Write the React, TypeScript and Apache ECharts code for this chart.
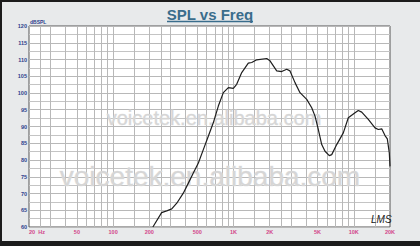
import React, { useEffect, useRef } from "react";
import * as echarts from "echarts";

// Frequency response data (Hz, dB SPL)
const freqHz = [214, 253, 279, 307, 338, 383, 422, 464, 511, 562, 618, 680, 749, 824, 907, 998, 1064, 1172, 1329, 1419, 1561, 1890, 2013, 2288, 2518, 2771, 2952, 3248, 3574, 4064, 4472, 4764, 5075, 5415, 5768, 6262, 6558, 7214, 8185, 9007, 10240, 10908, 11642, 13206, 15012, 15992, 17066, 18178, 19000, 19740, 20000];
const splDb = [60, 64.3, 64.8, 65.4, 67.1, 70.1, 73.1, 76.1, 79.1, 83.1, 87.1, 91.1, 96.1, 100.1, 101.6, 101.4, 102.6, 106.1, 108.9, 109.1, 109.9, 110.3, 109.6, 106.6, 106.4, 107.1, 106.6, 103.1, 100.1, 98.1, 95.6, 93.1, 89.1, 84.6, 82.6, 81.3, 81.6, 84.6, 88.1, 92.6, 94.1, 94.8, 94.3, 92.1, 89.6, 89.1, 89.3, 87.3, 86.3, 82.1, 78.1];

// Vertical grid lines of the log frequency axis
const gridFreqs = [25, 30, 40, 50, 60, 70, 80, 90, 100, 150, 200, 250, 300, 400, 500, 600, 700, 800, 900, 1000, 1500, 2000, 2500, 3000, 4000, 5000, 6000, 7000, 8000, 9000, 10000, 15000];
// Labelled frequencies and their tick labels
const labelFreqs = [20, 50, 100, 200, 500, 1000, 2000, 5000, 10000, 20000];
const labelTexts = ["20  Hz", "50", "100", "200", "500", "1K", "2K", "5K", "10K", "20K"];

const FONT = "Liberation Sans, Arial, sans-serif";

export default function App() {
  const ref = useRef<HTMLDivElement>(null);
  useEffect(() => {
    if (!ref.current) return;
    const chart = echarts.init(ref.current, null, { renderer: "svg" });
    const curve = freqHz.map((f, i) => [f, splDb[i]]);
    const gridLineData: any[] = gridFreqs.map((f) => ({ xAxis: f, label: { show: false } }));
    labelFreqs.forEach((f, i) => {
      gridLineData.push({
        xAxis: f,
        lineStyle: { color: "rgba(0,0,0,0)" },
        label: {
          show: true,
          position: "start",
          distance: 2,
          formatter: labelTexts[i],
          color: "#d2458a",
          fontSize: 5.5,
          fontFamily: FONT,
          fontWeight: "bold",
          ...(i === 0 ? { align: "left", offset: [0, 0] } : {}),
        },
      });
    });

    chart.setOption({
      animation: false,
      backgroundColor: "#1c1c1c",
      grid: {
        left: 29,
        right: 30,
        top: 26,
        bottom: 19,
        show: true,
        backgroundColor: "#ffffff",
        borderColor: "#555555",
        borderWidth: 1,
      },
      xAxis: {
        type: "log",
        logBase: 10,
        min: 20,
        max: 20000,
        axisLine: { show: false },
        axisTick: { show: false },
        axisLabel: { show: false },
        splitLine: { show: false },
      },
      yAxis: {
        type: "value",
        min: 60,
        max: 120,
        interval: 5,
        axisLine: { show: false },
        axisTick: { show: false },
        axisLabel: {
          color: "#2d3f8c",
          fontSize: 5.5,
          fontFamily: FONT,
          fontWeight: "bold",
          margin: 2,
        },
        splitLine: { lineStyle: { color: "#b8b8b8", width: 1 } },
        minorTick: { show: false, splitNumber: 2 },
        minorSplitLine: { show: true, lineStyle: { color: "#c4c4c4", width: 1 } },
      },
      graphic: [
        {
          type: "rect",
          z: -10,
          shape: { x: 2, y: 2, width: 420, height: 239 },
          style: { fill: "#e8eaeb" },
        },
        {
          type: "text",
          z: 10,
          x: 210,
          y: 14,
          style: {
            text: "SPL vs Freq",
            fill: "#3a6d8c",
            font: "bold 15px " + FONT,
            textAlign: "center",
            textVerticalAlign: "middle",
          },
        },
        {
          type: "line",
          z: 10,
          shape: { x1: 167, y1: 21.5, x2: 253, y2: 21.5 },
          style: { stroke: "#3a6d8c", lineWidth: 1.4 },
        },
        {
          type: "text",
          z: 10,
          x: 30,
          y: 22,
          style: {
            text: "dBSPL",
            fill: "#2d3f8c",
            font: "bold 5px " + FONT,
            textAlign: "left",
            textVerticalAlign: "middle",
          },
        },
        {
          type: "text",
          z: 2,
          x: 214,
          y: 118,
          silent: true,
          style: {
            text: "voicetek.en.alibaba.com",
            fill: "#d6d6d6",
            stroke: "#e6e6e6",
            lineWidth: 0.5,
            font: "20px " + FONT,
            textAlign: "center",
            textVerticalAlign: "middle",
          },
        },
        {
          type: "text",
          z: 2,
          x: 210,
          y: 176,
          silent: true,
          style: {
            text: "voicetek.en.alibaba.com",
            fill: "#d6d6d6",
            stroke: "#e6e6e6",
            lineWidth: 0.5,
            font: "28px " + FONT,
            textAlign: "center",
            textVerticalAlign: "middle",
          },
        },
        {
          type: "text",
          z: 10,
          x: 371,
          y: 219,
          style: {
            text: "LMS",
            fill: "#1a1a1a",
            font: "italic 10px " + FONT,
            textAlign: "left",
            textVerticalAlign: "middle",
          },
        },
      ],
      series: [
        {
          type: "line",
          data: [],
          silent: true,
          markLine: {
            z: 1,
            silent: true,
            symbol: ["none", "none"],
            lineStyle: { color: "#b8b8b8", width: 1, type: "solid" },
            label: { show: false },
            data: gridLineData,
          },
        },
        {
          type: "line",
          z: 3,
          data: curve,
          showSymbol: false,
          symbol: "none",
          lineStyle: { color: "#1e1e1e", width: 1.2 },
          silent: true,
        },
      ],
    });
    return () => chart.dispose();
  }, []);
  return (
    <div
      ref={ref}
      style={{ position: "absolute", left: 0, top: 0, width: 420, height: 246 }}
    />
  );
}
